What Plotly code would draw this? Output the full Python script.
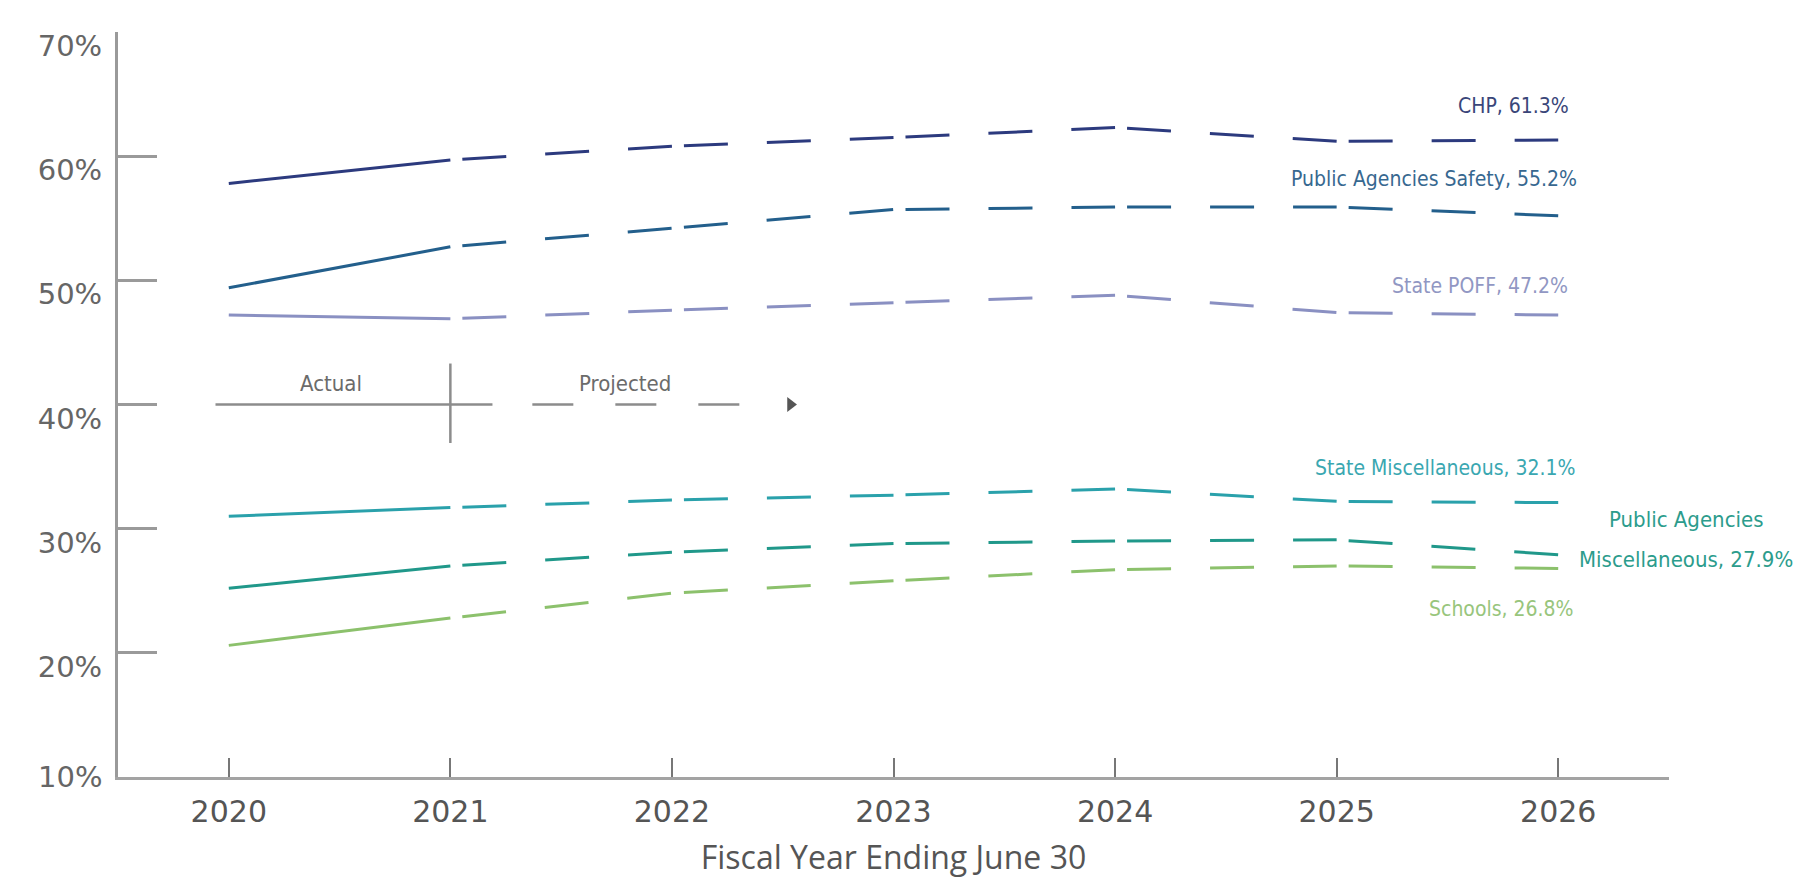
import plotly.graph_objects as go

# Fiscal years on the x axis
years = [2020, 2021, 2022, 2023, 2024, 2025, 2026]

# Employer contribution rates (% of payroll) by plan
chp = [57.8, 59.7, 60.8, 61.5, 62.3, 61.2, 61.3]
public_agencies_safety = [49.4, 52.7, 54.2, 55.7, 55.9, 55.9, 55.2]
state_poff = [47.2, 46.9, 47.6, 48.2, 48.8, 47.4, 47.2]
state_misc = [31.0, 31.7, 32.3, 32.7, 33.2, 32.2, 32.1]
public_agencies_misc = [25.2, 27.0, 28.1, 28.8, 29.0, 29.1, 27.9]
schools = [20.6, 22.8, 24.8, 25.8, 26.7, 27.0, 26.8]

y_ticks = [10, 20, 30, 40, 50, 60, 70]
last_actual_year = 2021

# name, values, line colour, label colour, label (xshift, yshift) in px
series = [
    ("CHP", chp, "#2c3a7e", "#3a4679", (13, 34)),
    ("Public Agencies Safety", public_agencies_safety, "#235f8c", "#376890", (21, 37)),
    ("State POFF", state_poff, "#8a90c2", "#9197c3", (12, 29)),
    ("State Miscellaneous", state_misc, "#2aa1ab", "#3aa7b1", (19, 35)),
    ("Public Agencies Miscellaneous", public_agencies_misc, "#20988a", "#2c9c8c", None),
    ("Schools", schools, "#8cc16c", "#98c57c", (18, -41)),
]

# dash sequence of one projected year: short gap, then three dashes
PROJ_DASH = "0px,12px,44px,39px,44px,39px,44px,0px"
LINE_W = 3
LABEL_FONT = "Liberation Sans Narrow, DejaVu Sans Condensed, Arial Narrow, sans-serif"
LABEL_SIZE = 21
Y_TICK_FONT = dict(family="DejaVu Sans", size=29, color="#666666")

fig = go.Figure()

split = years.index(last_actual_year)
for name, vals, color, _, _ in series:
    # actual years: solid
    fig.add_trace(go.Scatter(
        x=years[: split + 1], y=vals[: split + 1], mode="lines",
        line=dict(color=color, width=LINE_W), hoverinfo="skip", showlegend=False,
    ))
    # projected years: dashed, one segment per year so the dash rhythm restarts
    for i in range(split, len(years) - 1):
        fig.add_trace(go.Scatter(
            x=years[i: i + 2], y=vals[i: i + 2], mode="lines",
            line=dict(color=color, width=LINE_W, dash=PROJ_DASH),
            hoverinfo="skip", showlegend=False,
        ))

# end-of-line labels
for name, vals, _, tcolor, shift in series:
    last = vals[-1]
    if shift is None:
        first, second = "Public Agencies", f"Miscellaneous, {last:.1f}%"
        for text, ys in ((first, 35), (second, -5)):
            fig.add_annotation(
                x=years[-1], y=last, xref="x", yref="y", text=text, showarrow=False,
                xanchor="center", yanchor="middle", xshift=128, yshift=ys,
                font=dict(family=LABEL_FONT, size=LABEL_SIZE + 1, color=tcolor),
            )
        continue
    fig.add_annotation(
        x=years[-1], y=last, xref="x", yref="y", text=f"{name}, {last:.1f}%",
        showarrow=False, xanchor="right", yanchor="middle",
        xshift=shift[0], yshift=shift[1],
        font=dict(family=LABEL_FONT, size=LABEL_SIZE, color=tcolor),
    )

# Actual / Projected key
KEY_Y = 40
KEY_GRAY = "#8c8c8c"
fig.add_shape(type="line", xref="x", yref="y", x0=2019.94, x1=2021.19, y0=KEY_Y, y1=KEY_Y,
              line=dict(color=KEY_GRAY, width=2.5))
fig.add_shape(type="line", xref="x", yref="y", x0=last_actual_year, x1=last_actual_year,
              y0=36.9, y1=43.3, line=dict(color=KEY_GRAY, width=2.5))
fig.add_shape(type="line", xref="x", yref="y", x0=2021.37, x1=2022.31, y0=KEY_Y, y1=KEY_Y,
              line=dict(color=KEY_GRAY, width=2.5, dash="41px,42px"))
fig.add_trace(go.Scatter(
    x=[2022.535], y=[KEY_Y], mode="markers",
    marker=dict(symbol="triangle-right", size=13, color="#555555"),
    hoverinfo="skip", showlegend=False,
))
for text, xpos in (("Actual", 2020.46), ("Projected", 2021.79)):
    fig.add_annotation(
        x=xpos, y=KEY_Y, xref="x", yref="y", text=text, showarrow=False,
        xanchor="center", yanchor="middle", yshift=21,
        font=dict(family=LABEL_FONT, size=22, color="#6b6b6b"),
    )

# y tick labels sit just below their ticks, except the bottom one on the x axis
y_ticktext = [f"{t}%" for t in y_ticks]
fig.add_annotation(
    x=0, y=y_ticks[0], xref="paper", yref="y", text=y_ticktext[0], showarrow=False,
    xanchor="right", yanchor="middle", xshift=-14, font=Y_TICK_FONT,
)
y_ticktext[0] = ""

fig.update_layout(
    width=1801, height=878,
    margin=dict(l=118, r=132, t=32, b=101),
    paper_bgcolor="white", plot_bgcolor="white",
    showlegend=False, hovermode=False,
)
fig.update_xaxes(
    automargin=False,
    range=[2019.5, 2026.5], tickvals=years, ticktext=[str(y) for y in years],
    showgrid=False, zeroline=False,
    showline=True, linecolor="#a3a3a3", linewidth=3,
    ticks="inside", ticklen=19, tickwidth=1.5, tickcolor="#777777",
    ticklabelstandoff=6,
    tickfont=dict(family="DejaVu Sans", size=30, color="#555555"),
    title=dict(text="Fiscal Year Ending June 30", standoff=24,
               font=dict(family="Open Sans", size=32, color="#555555")),
)
fig.update_yaxes(
    automargin=False,
    range=[10, 70], tickvals=y_ticks, ticktext=y_ticktext,
    showgrid=False, zeroline=False,
    showline=True, linecolor="#9a9a9a", linewidth=3,
    ticks="inside", ticklen=39, tickwidth=2.5, tickcolor="#9a9a9a",
    ticklabelstandoff=7, ticklabelshift=14,
    tickfont=Y_TICK_FONT,
)

fig.write_html("out.html")
